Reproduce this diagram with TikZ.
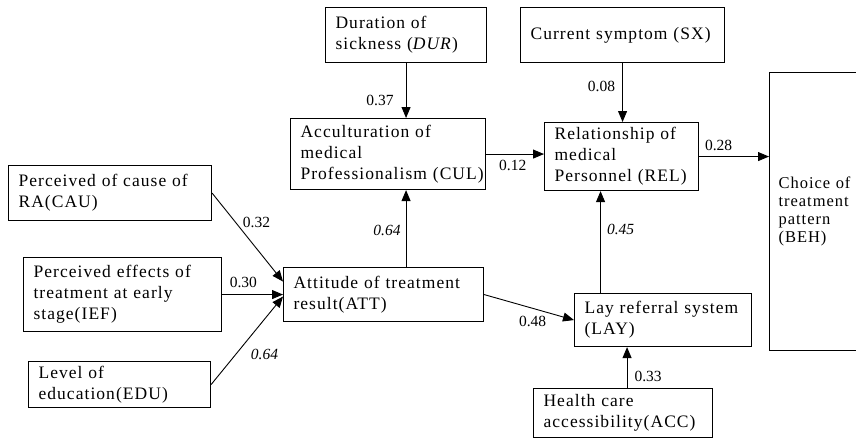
\documentclass[tikz,border=0pt]{standalone}
\usepackage{fontspec}
\setmainfont{Liberation Serif}
\newfontfamily\boxfont{Liberation Serif}[LetterSpace=6,WordSpace=1.6]
\usetikzlibrary{arrows.meta, positioning}

\tikzset{
  factor/.style={draw, rectangle, line width=1.1pt, anchor=north west,
    inner xsep=10pt, inner ysep=0pt, align=left,
    font=\boxfont\fontsize{17.5}{21}\selectfont},
  link/.style={line width=0.9pt, -{Triangle[length=11pt,width=9pt]}},
  coef/.style={inner sep=0pt, font=\fontsize{15.5}{15.5}\selectfont},
}

\begin{document}
\begin{tikzpicture}[x=1pt, y=-1pt]
  \useasboundingbox (0,0) rectangle (856,439);
  % exogenous factors
  \node[factor, text width=183pt, minimum height=55pt] (cau) at (8,165) {Perceived of cause of\\RA(CAU)};
  \node[factor, text width=178pt, minimum height=74pt] (ief) at (23,257) {Perceived effects of\\treatment at early\\stage(IEF)};
  \node[factor, text width=162pt, minimum height=46pt] (edu) at (28,361) {Level of\\education(EDU)};
  \node[factor, text width=141pt, minimum height=55pt] (dur) at (325,7) {Duration of\\sickness (\textit{DUR})};
  \node[factor, text width=184pt, minimum height=55pt] (sx) at (520,7) {Current~symptom~(SX)};
  \node[factor, text width=159pt, minimum height=49pt] (acc) at (533,388) {Health care\\accessibility(ACC)};
  % mediators
  \node[factor, text width=175pt, minimum height=71pt] (cul) at (290,118) {Acculturation of\\medical\\Professionalism~(CUL)};
  \node[factor, text width=134pt, minimum height=68pt] (rel) at (544,122) {Relationship of\\medical\\Personnel~(REL)};
  \node[factor, text width=180pt, minimum height=54pt] (att) at (283,267) {Attitude of treatment\\result(ATT)};
  \node[factor, text width=157pt, minimum height=53pt] (lay) at (574,293) {Lay~referral~system\\(LAY)};
  % outcome, cut at the right edge
  \node[factor, text width=100pt, minimum height=278pt, inner xsep=9pt,
    font=\boxfont\fontsize{16.5}{18}\selectfont] (beh) at (769,72) {Choice of\\treatment\\pattern\\(BEH)};

  \draw[link] (dur.south) -- (dur.south |- cul.north)
    node[coef, left=12pt, pos=0.68] (c-dur) {0.37};
  \draw[link] (sx.south) -- (sx.south |- rel.north)
    node[coef, left=7pt, pos=0.4] (c-sx) {0.08};
  \draw[link] (cul.east) -- (cul.east -| rel.west)
    node[coef, below=6pt, pos=0.46] (c-cul) {0.12};
  \draw[link] (rel.east) -- (rel.east -| beh.west)
    node[coef, above=5pt, pos=0.28] (c-rel) {0.28};
  \draw[link] (cau.east) -- ([yshift=13pt]att.west)
    node[coef, anchor=south west, pos=0.4, xshift=2pt] (c-cau) {0.32};
  \draw[link] (ief.east) -- (att.west)
    node[coef, above=6pt, pos=0.35] (c-ief) {0.30};
  \draw[link] (edu.east) -- ([yshift=-2pt]att.west)
    node[coef, right=15pt, pos=0.34] (c-edu) {\itshape 0.64};
  \draw[link] (dur.south |- att.north) -- (dur.south |- cul.south)
    node[coef, left=5pt, pos=0.47] (c-att) {\itshape 0.64};
  \draw[link] (att.east) -- (lay.west)
    node[coef, below=7pt, pos=0.54] (c-lay) {0.48};
  \draw[link] ([xshift=-21pt]rel.south |- lay.north) -- ([xshift=-21pt]rel.south)
    node[coef, right=6pt, pos=0.62] (c-up) {\itshape 0.45};
  \draw[link] ([xshift=4pt]acc.north) -- ([xshift=4pt]acc.north |- lay.south)
    node[coef, right=7pt, pos=0.29] (c-acc) {0.33};
\end{tikzpicture}
\end{document}
